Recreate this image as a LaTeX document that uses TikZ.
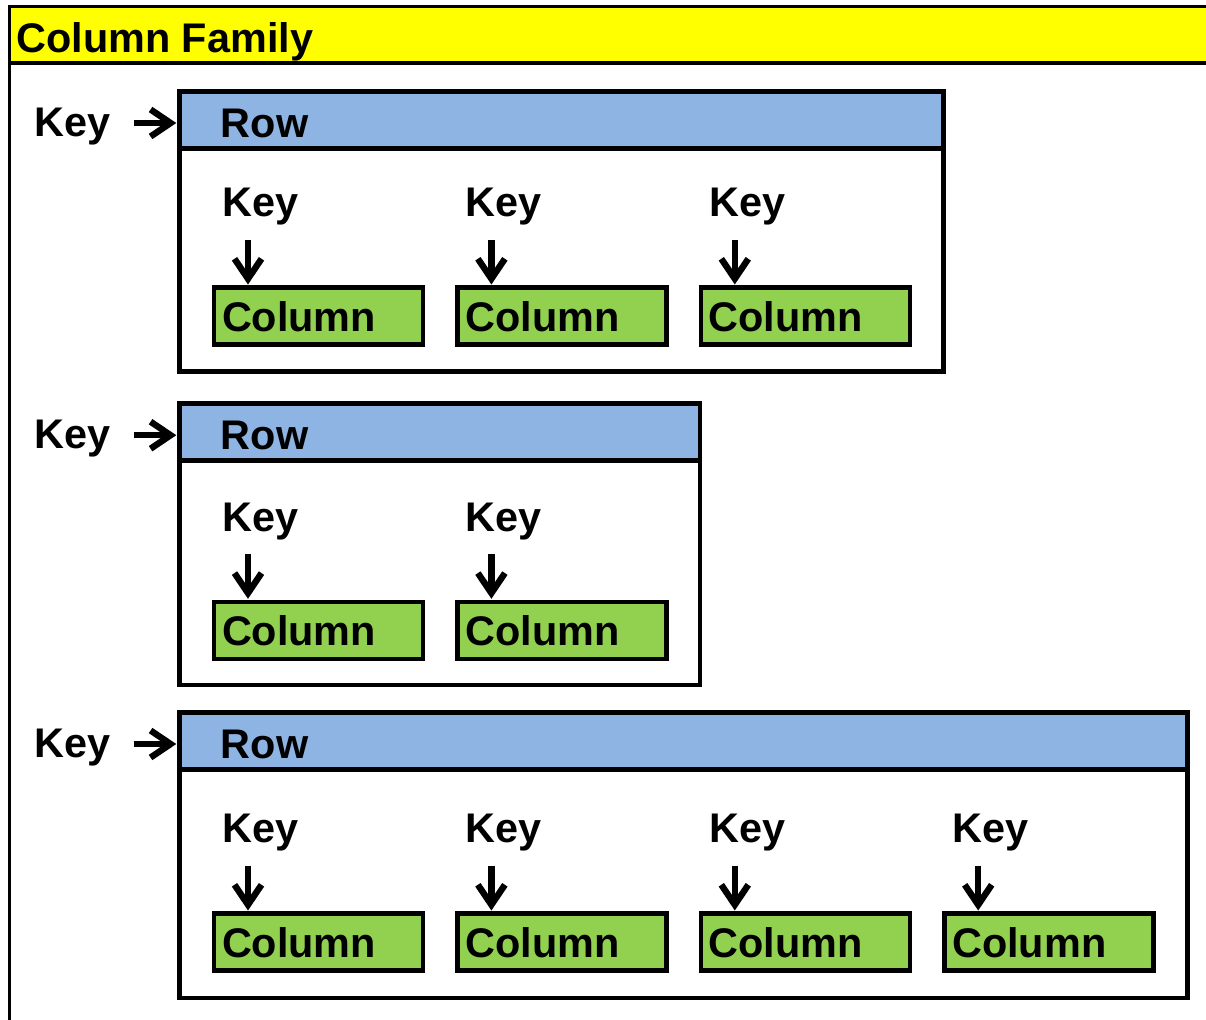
\documentclass[tikz,border=0pt]{standalone}
\usepackage{fontspec}
\setmainfont{Liberation Sans}
\usetikzlibrary{arrows.meta,calc}

\definecolor{famyellow}{HTML}{FFFF00}
\definecolor{rowblue}{HTML}{8DB4E2}
\definecolor{colgreen}{HTML}{92D050}

\tikzset{
  lbl/.style={inner sep=0pt, font=\bfseries\fontsize{20.7pt}{24pt}\selectfont},
  rowframe/.style={draw, line width=2.3pt, anchor=north west, inner sep=0pt, outer sep=0pt},
  rowhead/.style={rowframe, fill=rowblue, minimum height=28.5pt},
  colbox/.style={draw, line width=2.3pt, fill=colgreen, anchor=north west, outer sep=0pt,
    minimum height=28.5pt, text width=96.5pt, inner xsep=4pt, inner ysep=0pt, align=left,
    font=\bfseries\fontsize{20.7pt}{24pt}\selectfont},
  keyarrow/.style={-{Straight Barb[length=10pt,width=13.5pt]}, line width=3.2pt, shorten >=1.6pt},
}

\begin{document}
\begin{tikzpicture}[x=0.5pt, y=-0.5pt]
\useasboundingbox (0,0) rectangle (1206,1019);
\clip (0,0) rectangle (1206,1019);

% column family frame
\fill[famyellow] (9.5,6.5) rectangle (1230,63);
\draw[line width=1.5pt] (9.5,1040) -- (9.5,6.5) -- (1230,6.5);
\draw[line width=2.3pt] (9.5,63) -- (1230,63);
\node[lbl, anchor=base west] (family) at (16,52) {Column Family};

% rows: index / top / right / bottom / column top / columns
\foreach \r/\top/\right/\bot/\ctop/\n in {1/91.5/943.5/371.5/287.7/3,
    2/403.7/700/685/602/2, 3/712.5/1187.5/998/913.7/4}{
  \node[rowframe, minimum width={(\right-179.5)*0.5pt}, minimum height={(\bot-\top)*0.5pt}] (row\r) at (179.5,\top) {};
  \node[rowhead, minimum width={(\right-179.5)*0.5pt}] (head\r) at (row\r.north west) {};
  \node[lbl, anchor=base west] (rowtxt\r) at ([xshift=20.5pt, yshift=-22.75pt]head\r.north west) {Row};
  \node[lbl, anchor=base west] (rkey\r) at (34,\top+45) {Key};
  \draw[keyarrow] ($(rkey\r.east |- head\r.west)+(11.5pt,-1.5pt)$) -- ([yshift=-1.5pt]head\r.west);
  \foreach \j in {1,...,\n}{
    \pgfmathsetmacro\cx{214+(\j-1)*243.4}
    \node[colbox] (col\r-\j) at (\cx,\ctop) {Column};
    \node[lbl, anchor=base west] (key\r-\j) at (\cx+8,\ctop-71) {Key};
    \draw[keyarrow] ([xshift=13pt, yshift=-7pt]key\r-\j.south west) -- ([xshift=17pt]col\r-\j.north west);
  }
}
\end{tikzpicture}
\end{document}
